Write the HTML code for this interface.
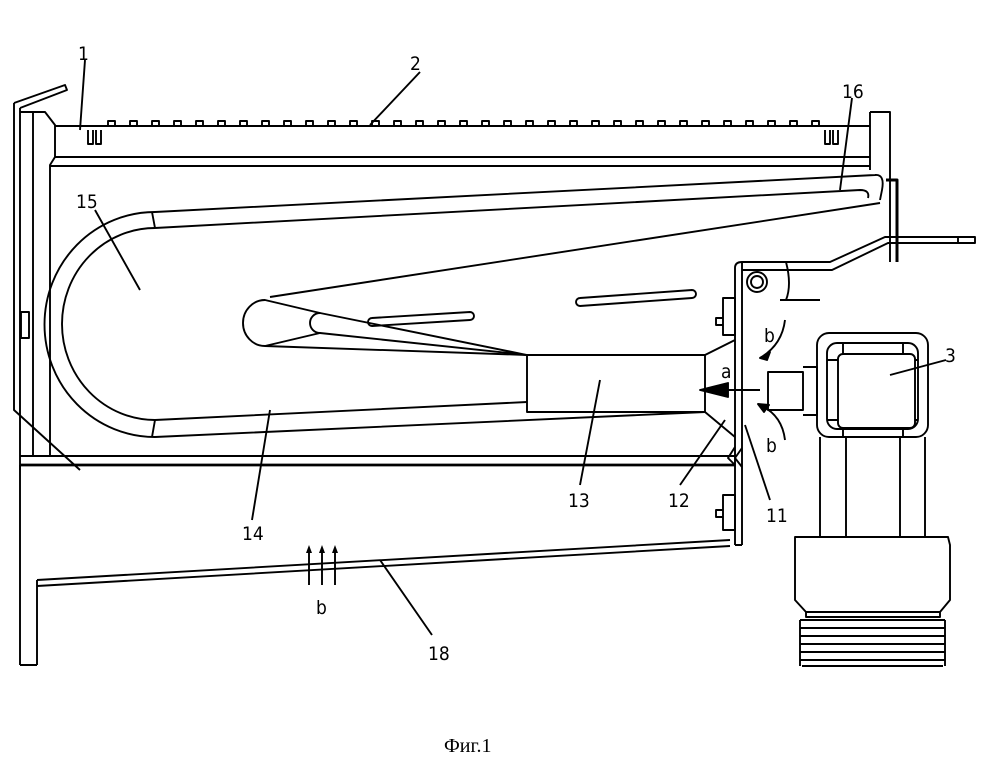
<!DOCTYPE html>
<html><head><meta charset="utf-8"><style>
html,body{margin:0;padding:0;background:#fff}
svg{display:block}
text{font-family:"DejaVu Sans Condensed","Liberation Sans",sans-serif;font-size:19px;fill:#000}
</style></head><body>
<svg width="999" height="759" viewBox="0 0 999 759" xmlns="http://www.w3.org/2000/svg">
<g fill="none" stroke="#000" stroke-width="1.9" stroke-linejoin="round">
<path d="M14 103 L14 410 L80 470"/>
<path d="M14 103 L65 85 L67 90 L20 108"/>
<path d="M20 108 L20 470"/>
<path d="M33 112 L33 455"/>
<path d="M20 112 L45 112 L55 125 L55 157 L50 165 L50 455"/>
<rect x="21" y="312" width="8" height="26"/>
<path d="M55 126 L870 126 M55 157 L870 157 M50 166 L870 166"/>
<path d="M88 130 V144 H93 V130 M96 130 V144 H101 V130"/>
<path d="M825 130 V144 H830 V130 M833 130 V144 H838 V130"/>
<path d="M108 126 V121 H115 V126 M130 126 V121 H137 V126 M152 126 V121 H159 V126 M174 126 V121 H181 V126 M196 126 V121 H203 V126 M218 126 V121 H225 V126 M240 126 V121 H247 V126 M262 126 V121 H269 V126 M284 126 V121 H291 V126 M306 126 V121 H313 V126 M328 126 V121 H335 V126 M350 126 V121 H357 V126 M372 126 V121 H379 V126 M394 126 V121 H401 V126 M416 126 V121 H423 V126 M438 126 V121 H445 V126 M460 126 V121 H467 V126 M482 126 V121 H489 V126 M504 126 V121 H511 V126 M526 126 V121 H533 V126 M548 126 V121 H555 V126 M570 126 V121 H577 V126 M592 126 V121 H599 V126 M614 126 V121 H621 V126 M636 126 V121 H643 V126 M658 126 V121 H665 V126 M680 126 V121 H687 V126 M702 126 V121 H709 V126 M724 126 V121 H731 V126 M746 126 V121 H753 V126 M768 126 V121 H775 V126 M790 126 V121 H797 V126 M812 126 V121 H819 V126"/>
<path d="M870 112 L890 112 L890 262 M870 112 L870 170"/>
<path d="M886 180 L897 180 L897 262" stroke-width="3"/>
<path d="M20 456 L735 456"/>
<path d="M20 465 L735 465" stroke-width="2.8"/>
<path d="M20 465 L20 665 M37 580 L37 665 M20 665 L37 665"/>
<path d="M37 580 L730 540 M37 586 L730 546"/>
<path d="M155 212 A110 112 0 0 0 155 437"/>
<path d="M155 228 A93 96 0 0 0 155 420"/>
<path d="M152 212 L155 228 M155 420 L152 437"/>
<path d="M155 212 L875 175 Q885 174 882 190 L880 200"/>
<path d="M155 228 L860 190 Q870 190 868 198"/>
<path d="M270 297 L880 203"/>
<path d="M155 437 L705 412 M155 420 L527 402"/>
<path d="M265 300 A22 23 0 0 0 265 346 L320 333 A10 10 0 0 1 320 313 Z"/>
<path d="M320 313 L527 355 M320 333 L527 355"/>
<path d="M265 346 L527 355"/>
<path d="M372 318 L470 312 A4 4 0 0 1 470 320 L372 326 A4 4 0 0 1 372 318Z"/>
<path d="M580 298 L692 290 A4 4 0 0 1 692 298 L580 306 A4 4 0 0 1 580 298Z"/>
<path d="M527 355 L705 355 L705 412 L527 412 Z"/>
<path d="M705 355 L735 340 M705 412 L735 437"/>
<path d="M735 268 L735 545 M742 262 L742 545 M735 545 L742 545"/>
<path d="M735 268 Q735 262 742 262 L830 262 L885 237 L975 237 L975 243 L888 243 L832 270 L742 270"/>
<path d="M958 237 L958 243"/>
<circle cx="757" cy="282" r="10"/><circle cx="757" cy="282" r="6"/>
<path d="M786 262 Q792 285 786 300 M780 300 L820 300"/>
<path d="M723 298 H735 V335 H723 Z M723 318 H716 V325 H723"/>
<path d="M723 495 H735 V530 H723 Z M723 510 H716 V517 H723"/>
<path d="M735 447 L728 458 L735 465 M742 448 L735 458 L742 467"/>
<path d="M700 390 L760 390"/>
<path d="M700 390 L728 383 L728 397 Z" fill="#000"/>
<path d="M785 320 Q782 345 760 358" /><path d="M760 358 L770 352 L767 360Z" fill="#000"/>
<path d="M785 440 Q782 415 760 405"/><path d="M758 404 L769 405 L764 412Z" fill="#000"/>
<rect x="817" y="333" width="111" height="104" rx="12"/>
<rect x="827" y="343" width="91" height="86" rx="10"/>
<rect x="838" y="354" width="77" height="74" rx="5"/>
<path d="M843 343 V354 M903 343 V354 M843 428 V437 M903 428 V437 M827 360 H838 M827 420 H838 M918 360 H915 M918 420 H915"/>
<path d="M768 372 H803 V410 H768 Z M803 367 H817 V415 H803"/>
<path d="M820 437 V537 M846 437 V537 M900 437 V537 M925 437 V537"/>
<path d="M795 537 H948 L950 545 V600 L940 612 H806 L795 600 V545 Z"/>
<path d="M806 612 V617 H940 V612"/>
<path d="M800 620 H945 M800 628 H945 M800 636 H945 M800 644 H945 M800 652 H945 M800 660 H945 M802 666 H943 M800 620 V666 M945 620 V666"/>
<path d="M309 585 V550 M322 585 V550 M335 585 V550"/>
<path d="M85 60 L80 130 M420 72 L370 125 M852 98 L840 190 M95 210 L140 290 M946 360 L890 375 M252 520 L270 410 M580 485 L600 380 M680 485 L725 420 M770 500 L745 425 M432 635 L380 560"/>
</g>
<path d="M309 545 L306 553 H312Z M322 545 L319 553 H325Z M335 545 L332 553 H338Z" fill="#000"/>
<text x="78" y="60">1</text>
<text x="410" y="70">2</text>
<text x="842" y="98">16</text>
<text x="76" y="208">15</text>
<text x="945" y="362">3</text>
<text x="242" y="540">14</text>
<text x="568" y="507">13</text>
<text x="668" y="507">12</text>
<text x="766" y="522">11</text>
<text x="428" y="660">18</text>
<text x="316" y="614">b</text>
<text x="721" y="378">a</text>
<text x="764" y="342">b</text>
<text x="766" y="452">b</text>
<text x="444" y="752" style="font-family:'Liberation Serif',serif;font-size:20px">Фиг.1</text>
</svg>
</body></html>
